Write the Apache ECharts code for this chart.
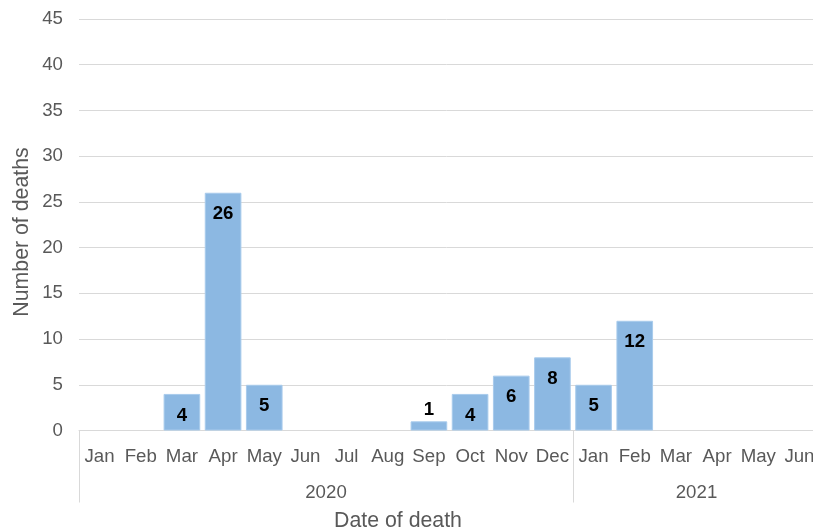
<!DOCTYPE html>
<html>
<head>
<meta charset="utf-8">
<script src="https://cdn.jsdelivr.net/npm/echarts@6/dist/echarts.min.js"></script>
<style>html,body{margin:0;padding:0;background:#fff}#c{width:813px;height:530px}</style>
</head>
<body>
<div id="c"></div>
<script>
var months = ['Jan','Feb','Mar','Apr','May','Jun','Jul','Aug','Sep','Oct','Nov','Dec','Jan','Feb','Mar','Apr','May','Jun'];
var deaths = [null,null,4,26,5,null,null,null,1,4,6,8,5,12,null,null,null,null];
var years = ['2020','2021'];
var monthsPerYear = [12,6];
var yTicks = [0,5,10,15,20,25,30,35,40,45];

var FONT = "'Liberation Sans', Arial, sans-serif";
var TICK_FS = 18.67, TITLE_FS = 21.3;
var boundaries = [0], yearCenters = [], acc = 0;
monthsPerYear.forEach(function(n){ yearCenters.push(acc + n/2); acc += n; boundaries.push(acc); });

var barData = deaths.map(function(v){
  if (v === null) return null;
  return {
    value: v,
    label: v < 2 ? {position:'top', distance:2} : {position:'insideTop', distance:12}
  };
});

var chart = echarts.init(document.getElementById('c'), null, {renderer:'canvas'});
chart.setOption({
  animation: false,
  backgroundColor: '#fff',
  textStyle: {fontFamily: FONT},
  grid: {left: 79, width: 741, top: 19, bottom: 99.5, containLabel: false, outerBoundsMode: 'none'},
  xAxis: [{
    type: 'category',
    data: months,
    boundaryGap: true,
    axisLine: {show: true, lineStyle: {color: '#d9d9d9', width: 1}},
    axisTick: {show: false},
    axisLabel: {interval: 0, color: '#595959', fontSize: TICK_FS, fontFamily: FONT, margin: 17}
  }, {
    type: 'value',
    position: 'bottom',
    min: 0,
    max: acc,
    splitLine: {show: false},
    axisLine: {show: false},
    axisTick: {show: true, customValues: boundaries, length: 72, lineStyle: {color: '#d9d9d9', width: 1}},
    axisLabel: {
      customValues: yearCenters,
      color: '#595959', fontSize: TICK_FS, fontFamily: FONT, margin: 53,
      formatter: function(v){ var i = yearCenters.indexOf(v); return i >= 0 ? years[i] : ''; }
    }
  }],
  yAxis: {
    type: 'value',
    min: yTicks[0],
    max: yTicks[yTicks.length-1],
    interval: yTicks[1]-yTicks[0],
    axisLine: {show: false},
    axisTick: {show: false},
    splitLine: {lineStyle: {color: '#d9d9d9', width: 1}},
    axisLabel: {color: '#595959', fontSize: TICK_FS, fontFamily: FONT, margin: 16}
  },
  series: [{
    type: 'bar',
    xAxisIndex: 0,
    data: barData,
    barWidth: '89%',
    itemStyle: {color: '#8cb8e2', borderColor: '#a8cbec', borderWidth: 1},
    label: {show: true, color: '#000', fontWeight: 'bold', fontSize: TICK_FS, fontFamily: FONT}
  }],
  graphic: [{
    type: 'text',
    x: 398, y: 521,
    style: {text: 'Date of death', fill: '#595959', font: TITLE_FS + 'px ' + FONT, textAlign: 'center', textVerticalAlign: 'middle'}
  }, {
    type: 'text',
    x: 22, y: 232,
    rotation: Math.PI/2,
    style: {text: 'Number of deaths', fill: '#595959', font: TITLE_FS + 'px ' + FONT, textAlign: 'center', textVerticalAlign: 'middle'}
  }]
});
</script>
</body>
</html>
